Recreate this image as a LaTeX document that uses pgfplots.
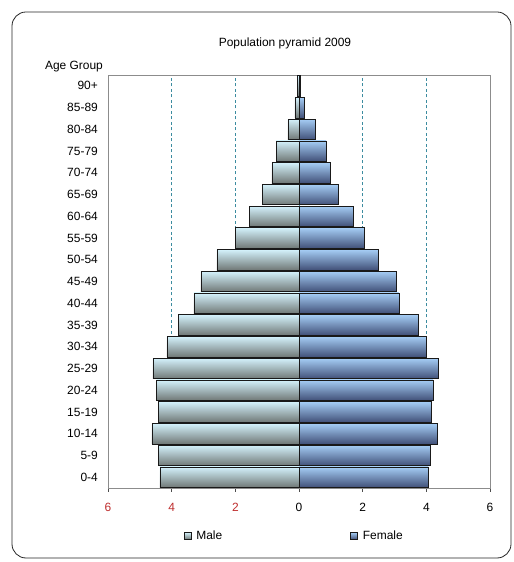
\documentclass[border=0pt]{standalone}
\usepackage{fontspec}
\setmainfont{Liberation Sans}
\usepackage{pgfplots}
\usepackage{pgfplotstable}
\pgfplotsset{compat=1.18}

\definecolor{negred}{RGB}{190,45,45}
\definecolor{gridteal}{RGB}{60,140,160}
\definecolor{mtop}{RGB}{212,242,252}
\definecolor{mmid}{RGB}{150,192,204}
\definecolor{mbot}{RGB}{112,120,118}
\definecolor{ftop}{RGB}{165,205,245}
\definecolor{fmid}{RGB}{95,145,195}
\definecolor{fbot}{RGB}{65,80,120}

% male values stored negative, one row per age group (0 = 0-4 ... 18 = 90+)
\pgfplotstableread{
idx male female
0  -4.37 4.06
1  -4.41 4.12
2  -4.62 4.34
3  -4.41 4.15
4  -4.47 4.21
5  -4.59 4.37
6  -4.15 3.99
7  -3.80 3.74
8  -3.30 3.14
9  -3.08 3.05
10 -2.58 2.49
11 -2.01 2.04
12 -1.57 1.70
13 -1.16 1.23
14 -0.85 0.97
15 -0.72 0.85
16 -0.35 0.50
17 -0.13 0.16
18 -0.04 0.04
}\pyr

\pgfplotsset{
    sqlegend/.style={legend image code/.code={\draw[##1] (0bp,-3.5bp) rectangle (7bp,3.5bp);}},
    malebar/.style={draw=black!90, line width=0.6bp, top color=mtop, middle color=mmid, bottom color=mbot},
    femalebar/.style={draw=black!90, line width=0.6bp, top color=ftop, middle color=fmid, bottom color=fbot},
}

\begin{document}
\fontsize{12}{14}\selectfont
\begin{tikzpicture}[x=1bp,y=1bp]
\useasboundingbox (0,0) rectangle (514,562);
\draw[rounded corners=14bp, line width=0.8bp, black!85] (12,4) rectangle (511,550);
\begin{axis}[
    at={(108bp,74bp)}, anchor=south west,
    width=382bp, height=413bp, scale only axis,
    xmin=-6, xmax=6,
    ymin=-0.5, ymax=18.5,
    xtick={-6,-4,...,6},
    xticklabels={\textcolor{negred}{6},\textcolor{negred}{4},\textcolor{negred}{2},0,2,4,6},
    ytick={0,...,18},
    yticklabels={0-4,5-9,10-14,15-19,20-24,25-29,30-34,35-39,40-44,45-49,50-54,55-59,60-64,65-69,70-74,75-79,80-84,85-89,90+},
    xtick pos=bottom, tick align=outside,
    major tick length=4bp,
    ytick style={draw=none},
    xtick style={draw=black!70, line width=0.6bp},
    axis line style={draw=black!45, line width=0.7bp},
    xmajorgrids,
    grid style={draw=gridteal, dash pattern=on 3bp off 2.5bp, line width=0.7bp},
    xticklabel style={anchor=north, inner sep=0pt, yshift=-11bp},
    yticklabel style={anchor=east, inner sep=0pt, xshift=-6bp},
    xbar, bar width=20.5bp, bar shift=0pt,
    legend columns=2,
    legend style={at={(0.19,-0.116)}, anchor=west, draw=none, fill=none,
        /tikz/every odd column/.append style={column sep=3bp},
        /tikz/every even column/.append style={column sep=126bp}},
]
% one plot per bar so that every bar gets its own gradient
\pgfplotsinvokeforeach{0,...,18}{
  \addplot[malebar, forget plot, restrict y to domain=#1:#1] table[x=male, y=idx] {\pyr};
  \addplot[femalebar, forget plot, restrict y to domain=#1:#1] table[x=female, y=idx] {\pyr};
}
\addlegendimage{malebar, sqlegend}
\addlegendentry{Male}
\addlegendimage{femalebar, sqlegend}
\addlegendentry{Female}
\end{axis}
\node at (285,519) {Population pyramid 2009};
\node at (74,495) {Age Group};
\end{tikzpicture}
\end{document}
